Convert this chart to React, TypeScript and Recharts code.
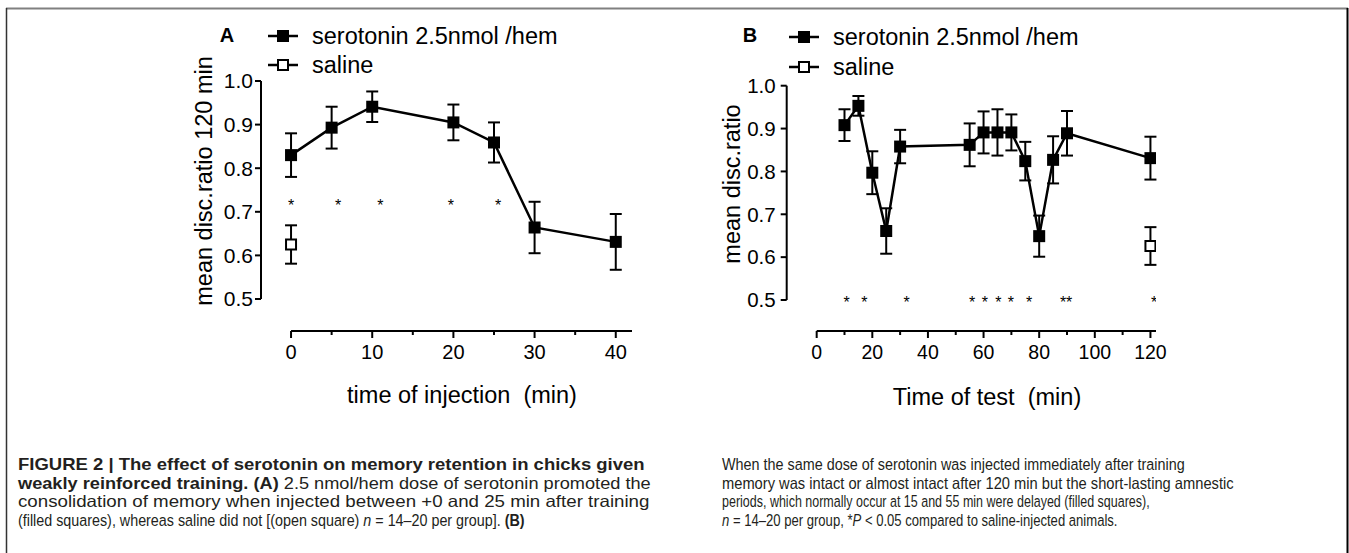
import React from "react";
import {
  ComposedChart,
  Line,
  Scatter,
  XAxis,
  YAxis,
  ErrorBar,
  ReferenceLine,
} from "recharts";

// ---- panel A: time of injection ----
const injectionTimes = [0, 5, 10, 20, 25, 30, 40];
const injectionMeans = [0.83, 0.893, 0.941, 0.905, 0.859, 0.664, 0.631];
const injectionSem = [0.05, 0.048, 0.035, 0.041, 0.046, 0.059, 0.064];
const salineATimes = [0];
const salineAMeans = [0.625];
const salineASem = [0.044];
const starsATimes = [0, 5.8, 11, 19.7, 25.5];
const starsALevel = 0.723;
const xTicksA = [0, 5, 10, 15, 20, 25, 30, 35, 40];
const xLabelsA = [0, 10, 20, 30, 40];

// ---- panel B: time of test ----
const testTimes = [10, 15, 20, 25, 30, 55, 60, 65, 70, 75, 80, 85, 90, 120];
const testMeans = [0.908, 0.953, 0.797, 0.661, 0.858, 0.862, 0.891, 0.891, 0.891, 0.824, 0.649, 0.827, 0.889, 0.831];
const testSem = [0.037, 0.023, 0.05, 0.053, 0.039, 0.05, 0.049, 0.054, 0.042, 0.045, 0.048, 0.055, 0.052, 0.05];
const salineBTimes = [120];
const salineBMeans = [0.626];
const salineBSem = [0.044];
const starsBTimes = [10.8, 17.1, 32.3, 55.9, 60.5, 65.3, 69.8, 76.4, 88.6, 90.8, 121.3];
const starsBLevel = 0.502;
const xTicksB = [0, 10, 20, 30, 40, 50, 60, 70, 80, 90, 100, 110, 120];
const xLabelsB = [0, 20, 40, 60, 80, 100, 120];

const yTicks = [0.5, 0.6, 0.7, 0.8, 0.9, 1.0];

const FONT = "'Liberation Sans', Arial, Helvetica, sans-serif";
const TICK_SIZE = 6;

const toRows = (xs: number[], ys: number[], es?: number[]) =>
  xs.map((x, i) => ({ x, y: ys[i], err: es ? es[i] : 0 }));

const filledDot = (p: any) => (
  <rect key={`d${p.index}`} x={p.cx - 6} y={p.cy - 6} width={12} height={12} fill="#000" />
);
const openSquare = (p: any) => (
  <rect x={p.cx - 5} y={p.cy - 5} width={10} height={10} fill="#fff" stroke="#000" strokeWidth={2} />
);
const starShape = (p: any) => (
  <text x={p.cx} y={p.cy + 9} textAnchor="middle" fontSize={16} fontFamily={FONT} fill="#000">
    *
  </text>
);

function makeXTick(labels: number[], fontSize: number) {
  return (p: any) => {
    const v = p.payload.value;
    const major = labels.includes(v);
    const y0 = p.y - TICK_SIZE;
    return (
      <g>
        <line x1={p.x} x2={p.x} y1={y0} y2={y0 + (major ? 7 : 4)} stroke="#000" strokeWidth={2} />
        {major && (
          <text x={p.x} y={y0 + 28} textAnchor="middle" fontSize={fontSize} fontFamily={FONT} fill="#000">
            {v}
          </text>
        )}
      </g>
    );
  };
}

type PanelProps = {
  width: number;
  height: number;
  margin: { top: number; left: number; right: number; bottom: number };
  xDomain: [number, number];
  yBottom: number;
  xTicks: number[];
  xLabels: number[];
  xEnd: number;
  tickFont: number;
  yTickMargin: number;
  drug: { x: number; y: number; err: number }[];
  saline: { x: number; y: number; err: number }[];
  stars: { x: number; y: number; err: number }[];
};

function Panel(props: PanelProps) {
  const { xDomain, yBottom } = props;
  return (
    <ComposedChart width={props.width} height={props.height} margin={props.margin}>
      <XAxis
        type="number"
        dataKey="x"
        domain={xDomain}
        allowDataOverflow
        ticks={props.xTicks}
        interval={0}
        axisLine={false}
        tickLine={false}
        tickSize={TICK_SIZE}
        tickMargin={0}
        height={40}
        tick={makeXTick(props.xLabels, props.tickFont)}
      />
      <YAxis
        type="number"
        domain={[yBottom, 1]}
        allowDataOverflow
        ticks={yTicks}
        interval={0}
        width={50}
        axisLine={false}
        tickLine={{ stroke: "#000", strokeWidth: 2 }}
        tickSize={6}
        tickMargin={props.yTickMargin}
        tickFormatter={(v: number) => v.toFixed(1)}
        tick={{ fill: "#000", fontSize: props.tickFont + 1, fontFamily: FONT }}
      />
      {/* x axis drawn detached from the y axis, as in the original figure */}
      <ReferenceLine
        segment={[
          { x: 0, y: yBottom },
          { x: props.xEnd, y: yBottom },
        ]}
        stroke="#000"
        strokeWidth={2}
        ifOverflow="visible"
      />
      <ReferenceLine
        segment={[
          { x: xDomain[0], y: 0.5 },
          { x: xDomain[0], y: 1 },
        ]}
        stroke="#000"
        strokeWidth={2}
        ifOverflow="visible"
      />
      <Line
        data={props.drug}
        dataKey="y"
        stroke="#000"
        strokeWidth={2.5}
        dot={filledDot}
        activeDot={false}
        isAnimationActive={false}
      >
        <ErrorBar dataKey="err" width={6} stroke="#000" strokeWidth={2} direction="y" />
      </Line>
      <Scatter data={props.saline} dataKey="y" shape={openSquare} isAnimationActive={false}>
        <ErrorBar dataKey="err" width={6} stroke="#000" strokeWidth={2} direction="y" />
      </Scatter>
      <Scatter data={props.stars} dataKey="y" shape={starShape} isAnimationActive={false} />
    </ComposedChart>
  );
}

const captionLeft = [
  { y: 470, len: 627, parts: [{ t: "FIGURE 2 | The effect of serotonin on memory retention in chicks given", b: true }] },
  {
    y: 488.5,
    len: 633,
    parts: [
      { t: "weakly reinforced training. (A)", b: true },
      { t: " 2.5 nmol/hem dose of serotonin promoted the" },
    ],
  },
  { y: 507, len: 632, parts: [{ t: "consolidation of memory when injected between +0 and 25 min after training" }] },
  {
    y: 525.5,
    len: 507,
    parts: [
      { t: "(filled squares), whereas saline did not [(open square) " },
      { t: "n", i: true },
      { t: " = 14–20 per group]. " },
      { t: "(B)", b: true },
    ],
  },
];

const captionRight = [
  { y: 470, len: 463, parts: [{ t: "When the same dose of serotonin was injected immediately after training" }] },
  { y: 488.5, len: 512, parts: [{ t: "memory was intact or almost intact after 120 min but the short-lasting amnestic" }] },
  { y: 507, len: 428, parts: [{ t: "periods, which normally occur at 15 and 55 min were delayed (filled squares)," }] },
  {
    y: 525.5,
    len: 396,
    parts: [
      { t: "n", i: true },
      { t: " = 14–20 per group, *" },
      { t: "P", i: true },
      { t: " < 0.05 compared to saline-injected animals." },
    ],
  },
];

type CapPart = { t: string; b?: boolean; i?: boolean };
type CapLine = { y: number; len: number; parts: CapPart[] };

const CAP_FONT = "'Liberation Sans', Arial, sans-serif";
let measureCtx: CanvasRenderingContext2D | null = null;

// natural width of a caption line, so it can be squeezed like the condensed print face
function lineWidth(parts: CapPart[], size: number) {
  if (!measureCtx) measureCtx = document.createElement("canvas").getContext("2d");
  if (!measureCtx) return 0;
  let w = 0;
  for (const p of parts) {
    measureCtx.font = `${p.i ? "italic " : ""}${p.b ? "bold " : ""}${size}px ${CAP_FONT}`;
    w += measureCtx.measureText(p.t).width;
  }
  return w;
}

function Caption({ x, lines, size }: { x: number; lines: CapLine[]; size: number }) {
  return (
    <g fontFamily={CAP_FONT} fontSize={size} fill="#231f20">
      {lines.map((l, k) => {
        const w = lineWidth(l.parts, size);
        const sx = w > 0 ? l.len / w : 1;
        return (
          <text key={k} transform={`translate(${x},${l.y}) scale(${sx},1)`} xmlSpace="preserve">
            {l.parts.map((p, j) => (
              <tspan key={j} fontWeight={p.b ? "bold" : "normal"} fontStyle={p.i ? "italic" : "normal"}>
                {p.t}
              </tspan>
            ))}
          </text>
        );
      })}
    </g>
  );
}

function LegendBlock({ x, y1, y2 }: { x: number; y1: number; y2: number }) {
  return (
    <g fontFamily={FONT} fontSize={23.5} fill="#000">
      <line x1={x} x2={x + 30} y1={y1} y2={y1} stroke="#000" strokeWidth={2.5} />
      <rect x={x + 9} y={y1 - 6} width={12} height={12} fill="#000" />
      <text x={x + 44} y={y1 + 8}>serotonin 2.5nmol /hem</text>
      <line x1={x} x2={x + 30} y1={y2} y2={y2} stroke="#000" strokeWidth={2.5} />
      <rect x={x + 10} y={y2 - 5} width={10} height={10} fill="#fff" stroke="#000" strokeWidth={2} />
      <text x={x + 44} y={y2 + 8}>saline</text>
    </g>
  );
}

export default function App() {
  const drugA = toRows(injectionTimes, injectionMeans, injectionSem);
  const salineA = toRows(salineATimes, salineAMeans, salineASem);
  const starsA = toRows(starsATimes, starsATimes.map(() => starsALevel));
  const drugB = toRows(testTimes, testMeans, testSem);
  const salineB = toRows(salineBTimes, salineBMeans, salineBSem);
  const starsB = toRows(starsBTimes, starsBTimes.map(() => starsBLevel));

  return (
    <div style={{ position: "absolute", left: 0, top: 0, width: 1349, height: 553, background: "#fff", overflow: "hidden" }}>
      <div style={{ position: "absolute", left: 0, top: 0 }}>
        <Panel
          width={680}
          height={440}
          margin={{ top: 81, left: 211, right: 48, bottom: 69 }}
          xDomain={[-3.7, 42]}
          yBottom={0.4266}
          xTicks={xTicksA}
          xLabels={xLabelsA}
          xEnd={42}
          tickFont={20}
          yTickMargin={2}
          drug={drugA}
          saline={salineA}
          stars={starsA}
        />
      </div>
      <div style={{ position: "absolute", left: 700, top: 0 }}>
        <Panel
          width={520}
          height={440}
          margin={{ top: 85.7, left: 36.7, right: 64, bottom: 69 }}
          xDomain={[-10.78, 122]}
          yBottom={0.4277}
          xTicks={xTicksB}
          xLabels={xLabelsB}
          xEnd={122}
          tickFont={19.5}
          yTickMargin={5}
          drug={drugB}
          saline={salineB}
          stars={starsB}
        />
      </div>
      <svg
        width={1349}
        height={553}
        style={{ position: "absolute", left: 0, top: 0, pointerEvents: "none" }}
      >
        {/* frame */}
        <line x1={6} x2={1348} y1={8.5} y2={8.5} stroke="#808080" strokeWidth={2} />
        <line x1={6.5} x2={6.5} y1={8} y2={553} stroke="#333" strokeWidth={1.5} />
        <line x1={1347.5} x2={1347.5} y1={8} y2={553} stroke="#000" strokeWidth={2} />

        {/* panel letters + legends */}
        <text x={227} y={42} textAnchor="middle" fontFamily={FONT} fontWeight="bold" fontSize={20}>A</text>
        <LegendBlock x={268} y1={36} y2={65} />
        <text x={750} y={42} textAnchor="middle" fontFamily={FONT} fontWeight="bold" fontSize={20}>B</text>
        <LegendBlock x={789} y1={37} y2={67} />

        {/* axis titles */}
        <g fontFamily={FONT} fontSize={23.5} fill="#000">
          <text x={462} y={403} textAnchor="middle">{"time of injection \u00a0(min)"}</text>
          <text x={987} y={405} textAnchor="middle">{"Time of test \u00a0(min)"}</text>
          <text transform="translate(212,181) rotate(-90)" textAnchor="middle">mean disc.ratio 120 min</text>
          <text transform="translate(740,184) rotate(-90)" textAnchor="middle">mean disc.ratio</text>
        </g>

        <Caption x={18} lines={captionLeft} size={16.5} />
        <Caption x={722} lines={captionRight} size={16.5} />
      </svg>
    </div>
  );
}
